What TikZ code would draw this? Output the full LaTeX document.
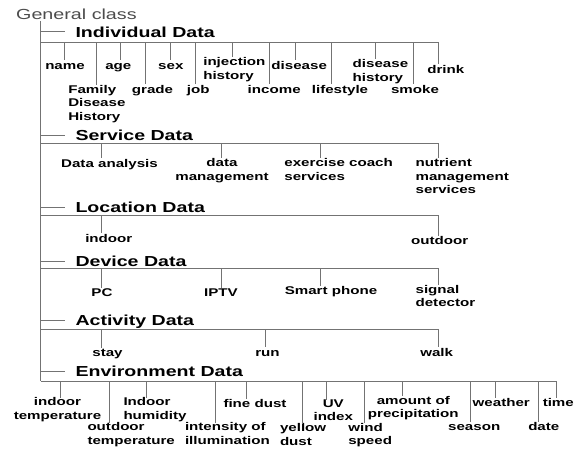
\documentclass[tikz,border=0pt]{standalone}
\usepackage{fontspec}
\setmainfont{Liberation Sans}[FakeStretch=1.35]
\usepackage{tikz}
\usetikzlibrary{positioning}

\newcommand\leafsize{\fontsize{11.2}{13.5}\selectfont}
\newcommand\hdrsize{\fontsize{14.5}{17}\selectfont}

\begin{document}
\begin{tikzpicture}[x=1pt, y=-1pt,
    branch/.style={draw=black!55, line width=1pt},
    gen/.style={font=\fontsize{14.6}{17}\selectfont, text=black!70, inner sep=0pt},
    hdr/.style={font=\hdrsize\bfseries, text=black, inner sep=0pt, outer sep=0pt,
        text height=10.4pt, text depth=0pt, anchor=west},
    leaf/.style={font=\leafsize\bfseries, text=black, inner sep=0pt, outer sep=0pt,
        anchor=north, align=center, execute at begin node=\strut},
    leafw/.style={leaf, anchor=north west, align=left}]
\useasboundingbox (0,0) rectangle (582,452);

\node[gen, anchor=base west] (general) at (16,20) {General class};
\coordinate (top) at (40.5,21);

% headers
\node[hdr] (ind) at (75.5,32) {Individual Data};
\node[hdr] (srv) at (75.5,135.7) {Service Data};
\node[hdr] (loc) at (75.5,207.5) {Location Data};
\node[hdr] (dev) at (75.5,261.7) {Device Data};
\node[hdr] (act) at (75.5,320) {Activity Data};
\node[hdr] (env) at (75.5,371) {Environment Data};

% bars
\coordinate (indbar) at (40.5,42.3);
\coordinate (srvbar) at (40.5,143.3);
\coordinate (locbar) at (40.5,215);
\coordinate (devbar) at (40.5,268.3);
\coordinate (actbar) at (40.5,329.3);
\coordinate (envbar) at (40.5,381);

% Individual Data
\node[leaf] (name) at (65,60.5) {name};
\node[leafw] (fdh) at (68.3,85) {Family\\Disease\\History};
\node[leaf] (age) at (118.3,60.5) {age};
\node[leaf] (grade) at (152.5,84.5) {grade};
\node[leaf] (sex) at (170.8,60.5) {sex};
\node[leaf] (job) at (198.3,84.5) {job};
\node[leafw] (inj) at (203.3,57.5) {injection\\history};
\node[leaf] (income) at (274.2,84.5) {income};
\node[leaf] (disease) at (299.2,60.5) {disease};
\node[leaf] (life) at (340,84.5) {lifestyle};
\node[leafw] (dhist) at (352.7,59.5) {disease\\history};
\node[leaf] (smoke) at (415,84.5) {smoke};
\node[leaf] (drink) at (445.8,64) {drink};

% Service Data
\node[leaf] (da) at (109.5,158.5) {Data analysis};
\node[leaf] (dm) at (222,158.5) {data\\management};
\node[leafw] (ecs) at (284.4,158.5) {exercise coach\\services};
\node[leafw] (nms) at (415.6,158.5) {nutrient\\management\\services};

% Location Data
\node[leaf] (indoor) at (108.8,233) {indoor};
\node[leaf] (outdoor) at (439.6,235.5) {outdoor};

% Device Data
\node[leaf] (pc) at (102,287.5) {PC};
\node[leaf] (iptv) at (221,287.5) {IPTV};
\node[leaf] (phone) at (331,285.5) {Smart phone};
\node[leafw] (sig) at (415.6,285) {signal\\detector};

% Activity Data
\node[leaf] (stay) at (107.5,347.5) {stay};
\node[leaf] (run) at (267.5,347) {run};
\node[leaf] (walk) at (436.7,347) {walk};

% Environment Data
\node[leaf] (itemp) at (57.5,397.5) {indoor\\temperature};
\node[leafw] (otemp) at (87.5,422.5) {outdoor\\temperature};
\node[leafw] (ihum) at (123.5,397.5) {Indoor\\humidity};
\node[leafw] (illum) at (185,422.5) {intensity of\\illumination};
\node[leaf] (fdust) at (255,398.5) {fine dust};
\node[leafw] (ydust) at (280,423.5) {yellow\\dust};
\node[leaf] (uv) at (333.3,399.5) {UV\\index};
\node[leafw] (wind) at (348.3,423) {wind\\speed};
\node[leaf] (precip) at (413.3,396) {amount of\\precipitation};
\node[leaf] (season) at (474.2,421.5) {season};
\node[leaf] (weather) at (501.3,397.5) {weather};
\node[leaf] (date) at (543.8,421.5) {date};
\node[leaf] (time) at (558.3,397.5) {time};

% trunk and header stubs
\draw[branch] (top) -- (envbar);
\foreach \h in {ind, srv, loc, dev, act, env}
    \draw[branch, shorten >=10.5pt] (top |- \h.west) -- (\h.west);

\draw[branch] (indbar) -- (438.3,0 |- indbar);
\draw[branch] (srvbar) -- (438.7,0 |- srvbar);
\draw[branch] (locbar) -- (438.7,0 |- locbar);
\draw[branch] (devbar) -- (438.7,0 |- devbar);
\draw[branch] (actbar) -- (438.3,0 |- actbar);
\draw[branch] (envbar) -- (556.7,0 |- envbar);

% ticks
\foreach \n/\x in {name/64.3, fdh/96, age/120.7, grade/145, sex/170, job/195, inj/232.3,
    income/269.3, disease/295, life/331.7, dhist/375.7, smoke/413.3, drink/438.3}
    \draw[branch] (\x,0 |- indbar) -- (\x,0 |- \n.north);
\foreach \n/\x in {da/101.5, dm/221, ecs/320, nms/438.7}
    \draw[branch] (\x,0 |- srvbar) -- (\x,0 |- \n.north);
\foreach \n/\x in {indoor/101.5, outdoor/438.7}
    \draw[branch] (\x,0 |- locbar) -- (\x,0 |- \n.north);
\foreach \n/\x in {pc/101.5, iptv/221, phone/320, sig/438.7}
    \draw[branch] (\x,0 |- devbar) -- (\x,0 |- \n.north);
\foreach \n/\x in {stay/101.7, run/265.7, walk/438.3}
    \draw[branch] (\x,0 |- actbar) -- (\x,0 |- \n.north);
\foreach \n/\x in {itemp/60, otemp/109, ihum/146.7, illum/215, fdust/246.7, ydust/302.7,
    uv/326.7, wind/364.3, precip/402.3, season/470.7, weather/495, date/538.3, time/556}
    \draw[branch] (\x,0 |- envbar) -- (\x,0 |- \n.north);
\end{tikzpicture}
\end{document}
